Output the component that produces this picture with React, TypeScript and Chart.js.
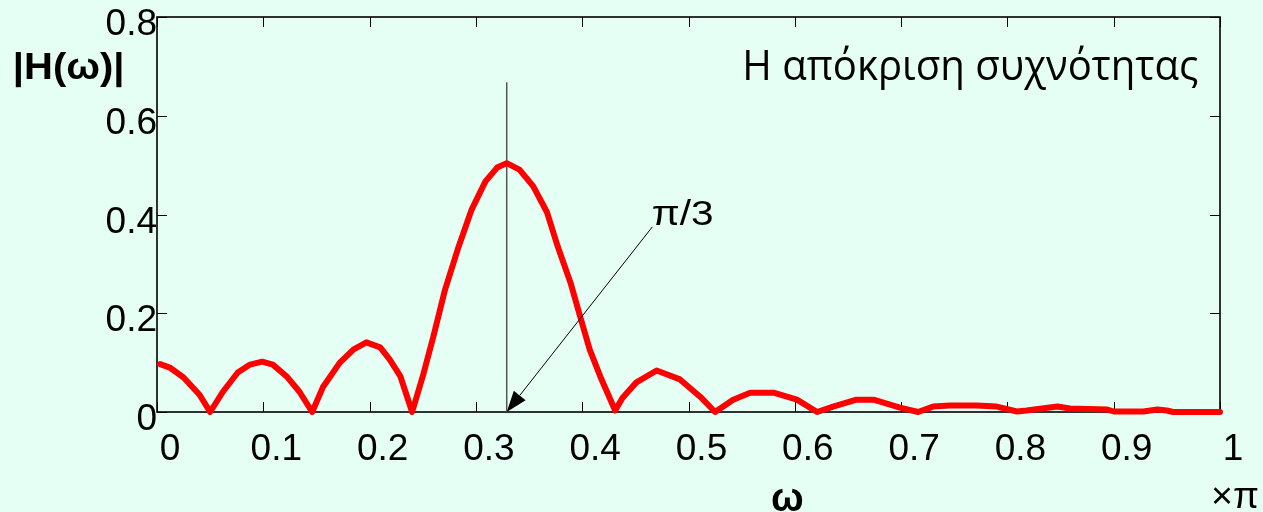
import { useEffect, useRef } from "react";
import { Chart, registerables } from "chart.js";

Chart.register(...registerables);

// ---- data ----
const omegaValues = [
  0.003, 0.012, 0.025, 0.04, 0.05, 0.062, 0.076, 0.0875, 0.099, 0.109, 0.122, 0.134, 0.146,
  0.156, 0.172, 0.185, 0.197, 0.21, 0.219, 0.229, 0.24, 0.25, 0.26, 0.271, 0.283, 0.296,
  0.309, 0.32, 0.329, 0.341, 0.354, 0.367, 0.377, 0.389, 0.398, 0.407, 0.417, 0.431, 0.438,
  0.451, 0.47, 0.492, 0.511, 0.525, 0.542, 0.558, 0.58, 0.602, 0.621, 0.636, 0.658, 0.674,
  0.699, 0.716, 0.73, 0.746, 0.771, 0.79, 0.809, 0.818, 0.847, 0.859, 0.894, 0.9, 0.928,
  0.941, 0.95, 0.956, 1.0,
];
const magnitudeValues = [
  0.097, 0.09, 0.07, 0.035, 0.0, 0.041, 0.08, 0.096, 0.102, 0.096, 0.072, 0.041, 0.0,
  0.05, 0.1, 0.127, 0.141, 0.131, 0.106, 0.072, 0.0, 0.072, 0.153, 0.248, 0.33, 0.41,
  0.467, 0.495, 0.504, 0.491, 0.457, 0.404, 0.335, 0.262, 0.194, 0.127, 0.072, 0.003, 0.029,
  0.06, 0.084, 0.066, 0.031, 0.0, 0.025, 0.039, 0.039, 0.025, 0.0, 0.011, 0.025, 0.025,
  0.009, 0.0, 0.011, 0.013, 0.013, 0.011, 0.001, 0.003, 0.011, 0.007, 0.005, 0.001, 0.001,
  0.005, 0.003, 0.0, 0.0,
];
const markerOmega = [0.329, 0.329];
const markerMagnitude = [0, 0.668];
const arrowOmega = [0.466, 0.329]; // tail, tip
const arrowMagnitude = [0.375, 0];
const xTickValues = [0, 0.1, 0.2, 0.3, 0.4, 0.5, 0.6, 0.7, 0.8, 0.9, 1];
const yTickValues = [0, 0.2, 0.4, 0.6, 0.8];

const titleText = "Η απόκριση συχνότητας";
const yTitleText = "|H(ω)|";
const xTitleText = "ω";
const xUnitText = "×π";
const arrowLabel = "π/3";

const BG = "#E6FFF5";
const FONT = "'Liberation Sans', Arial, sans-serif";
const TITLE_FONT = "'Open Sans', 'Noto Sans', sans-serif";

function drawFitted(
  ctx: CanvasRenderingContext2D,
  text: string,
  font: string,
  left: number,
  baseline: number,
  inkWidth: number
) {
  ctx.save();
  ctx.font = font;
  ctx.textAlign = "left";
  ctx.textBaseline = "alphabetic";
  const m = ctx.measureText(text);
  const w = m.actualBoundingBoxLeft + m.actualBoundingBoxRight;
  const sx = w > 0 ? inkWidth / w : 1;
  ctx.translate(left, baseline);
  ctx.scale(sx, 1);
  ctx.fillText(text, m.actualBoundingBoxLeft, 0);
  ctx.restore();
}

const decorPlugin = {
  id: "decor",
  beforeDraw(chart: any) {
    const ctx = chart.ctx;
    ctx.save();
    ctx.fillStyle = BG;
    ctx.fillRect(0, 0, chart.width, chart.height);
    ctx.restore();
  },
  beforeDatasetsDraw(chart: any) {
    const { ctx, chartArea: a, scales } = chart;
    const xs = scales.x;
    const ys = scales.y;
    ctx.save();
    ctx.strokeStyle = "#000";
    ctx.lineWidth = 1;
    ctx.beginPath();
    for (const v of xTickValues) {
      const px = Math.round(xs.getPixelForValue(v)) + 0.5;
      ctx.moveTo(px, a.bottom);
      ctx.lineTo(px, a.bottom - 10);
      ctx.moveTo(px, a.top);
      ctx.lineTo(px, a.top + 10);
    }
    for (const v of yTickValues) {
      const py = Math.round(ys.getPixelForValue(v)) + 0.5;
      ctx.moveTo(a.left, py);
      ctx.lineTo(a.left + 10, py);
      ctx.moveTo(a.right, py);
      ctx.lineTo(a.right - 10, py);
    }
    ctx.stroke();
    ctx.lineWidth = 1.6;
    ctx.strokeRect(a.left, a.top, a.right - a.left, a.bottom - a.top);
    ctx.restore();
  },
  afterDatasetsDraw(chart: any) {
    const { ctx, scales } = chart;
    const xs = scales.x;
    const ys = scales.y;
    ctx.save();
    // arrow
    const x0 = xs.getPixelForValue(arrowOmega[0]);
    const y0 = ys.getPixelForValue(arrowMagnitude[0]);
    const x1 = xs.getPixelForValue(arrowOmega[1]);
    const y1 = ys.getPixelForValue(arrowMagnitude[1]);
    const ang = Math.atan2(y1 - y0, x1 - x0);
    const headLen = 21;
    const headHalf = 7.5;
    const bx = x1 - headLen * Math.cos(ang);
    const by = y1 - headLen * Math.sin(ang);
    ctx.strokeStyle = "#000";
    ctx.lineWidth = 1;
    ctx.beginPath();
    ctx.moveTo(x0, y0);
    ctx.lineTo(bx, by);
    ctx.stroke();
    ctx.fillStyle = "#000";
    ctx.beginPath();
    ctx.moveTo(x1, y1);
    ctx.lineTo(bx + headHalf * Math.sin(ang), by - headHalf * Math.cos(ang));
    ctx.lineTo(bx - headHalf * Math.sin(ang), by + headHalf * Math.cos(ang));
    ctx.closePath();
    ctx.fill();

    // texts
    ctx.fillStyle = "#000";
    drawFitted(ctx, arrowLabel, `35px ${FONT}`, 653, 225, 59);
    drawFitted(ctx, yTitleText, `bold 37px ${FONT}`, 15, 79, 107);
    drawFitted(ctx, xTitleText, `bold 40px ${FONT}`, 772, 511, 31);
    drawFitted(ctx, xUnitText, `36px ${FONT}`, 1213, 508, 45);
    drawFitted(ctx, titleText, `42px ${TITLE_FONT}`, 746, 80, 452);
    ctx.restore();
  },
};

export default function App() {
  const canvasRef = useRef<HTMLCanvasElement | null>(null);

  useEffect(() => {
    const canvas = canvasRef.current;
    if (!canvas) return;
    const chart = new Chart(canvas, {
      type: "line",
      data: {
        datasets: [
          {
            label: "|H(ω)|",
            data: omegaValues.map((x, i) => ({ x, y: magnitudeValues[i] })),
            borderColor: "#FF0000",
            borderWidth: 6,
            pointRadius: 0,
            tension: 0,
            fill: false,
            clip: false,
            borderJoinStyle: "round",
            borderCapStyle: "round",
          },
          {
            label: "π/3",
            data: markerOmega.map((x, i) => ({ x, y: markerMagnitude[i] })),
            borderColor: "#555555",
            borderWidth: 1.5,
            pointRadius: 0,
            fill: false,
          },
        ],
      },
      options: {
        responsive: false,
        animation: false,
        events: [],
        layout: { padding: { left: 0, right: 43, top: 17, bottom: 0 } },
        plugins: {
          legend: { display: false },
          tooltip: { enabled: false },
          title: { display: false },
        },
        scales: {
          x: {
            type: "linear",
            min: 0,
            max: 1,
            grid: { display: false, drawTicks: false },
            border: { display: false },
            afterBuildTicks: (scale: any) => {
              scale.ticks = xTickValues.map((v) => ({ value: v }));
            },
            afterFit: (scale: any) => {
              scale.height = 100;
              scale.paddingLeft = 0;
              scale.paddingRight = 0;
            },
            ticks: {
              color: "#000",
              font: { family: FONT, size: 37 },
              padding: 16,
              labelOffset: 13,
              maxRotation: 0,
              autoSkip: false,
              callback: (v: any) => String(v),
            },
          },
          y: {
            type: "linear",
            min: 0,
            max: 0.8,
            grid: { display: false, drawTicks: false },
            border: { display: false },
            afterBuildTicks: (scale: any) => {
              scale.ticks = yTickValues.map((v) => ({ value: v }));
            },
            afterFit: (scale: any) => {
              scale.width = 157;
              scale.paddingTop = 0;
              scale.paddingBottom = 0;
            },
            ticks: {
              color: "#000",
              font: { family: FONT, size: 37 },
              padding: 0,
              labelOffset: 8,
              autoSkip: false,
              callback: (v: any) => String(v),
            },
          },
        },
      },
      plugins: [decorPlugin],
    } as any);
    return () => chart.destroy();
  }, []);

  return (
    <div style={{ position: "absolute", left: 0, top: 0, width: 1263, height: 512, background: BG }}>
      <canvas ref={canvasRef} width={1263} height={512} style={{ display: "block" }} />
    </div>
  );
}
